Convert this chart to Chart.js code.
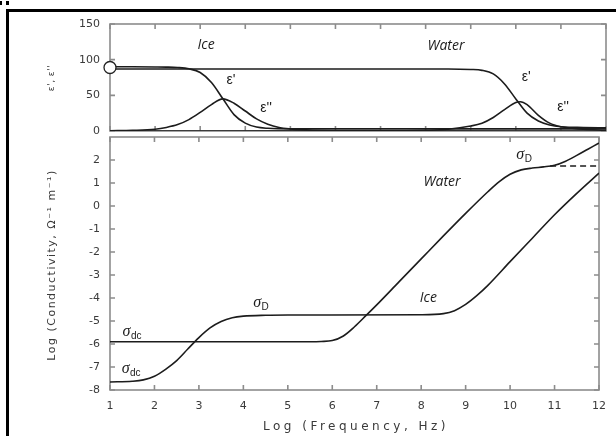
<!DOCTYPE html>
<html>
<head>
<meta charset="utf-8">
<script src="https://cdn.jsdelivr.net/npm/chart.js@4.4.1/dist/chart.umd.min.js"></script>
<style>
html, body { margin: 0; padding: 0; background: #fff; }
#wrap { position: relative; width: 616px; height: 436px; overflow: hidden; }
#wrap canvas { position: absolute; left: 0; top: 0; }
#frame { position: absolute; left: 6px; top: 9px; width: 640px; height: 460px; border-left: 3px solid #000; border-top: 3px solid #000; }
.dot { position: absolute; top: 1px; width: 2px; height: 4px; background: #000; }
</style>
</head>
<body>
<div id="wrap">
  <div id="frame"></div>
  <div class="dot" style="left:0"></div>
  <div class="dot" style="left:6px;width:3px"></div>
  <canvas id="topChart" width="616" height="436"></canvas>
  <canvas id="bottomChart" width="616" height="436"></canvas>
</div>
<script>
// ticks
const freqTicks = [1, 2, 3, 4, 5, 6, 7, 8, 9, 10, 11, 12];
const epsTicks = [0, 50, 100, 150];
const condTicks = [-8, -7, -6, -5, -4, -3, -2, -1, 0, 1, 2];

// top panel: permittivity
const iceRealX = [1, 1.5, 2, 2.25, 2.5, 2.75, 3, 3.25, 3.5, 3.75, 4, 4.25, 4.5, 5, 6, 12];
const iceReal  = [90, 90, 89.8, 89.6, 89, 87.2, 82, 68, 45.5, 23, 11, 5.5, 3.8, 3, 3, 3];
const iceImagX = [1, 1.5, 2, 2.25, 2.5, 2.75, 3, 3.25, 3.5, 3.75, 4, 4.25, 4.5, 4.75, 5, 5.5, 6, 12];
const iceImag  = [0.3, 0.9, 2.5, 5, 9, 16, 26, 37, 45, 39, 28, 17, 9.5, 5, 3, 1, 0.3, 0];
const waterRealX = [1, 8.5, 9, 9.25, 9.5, 9.75, 10, 10.25, 10.5, 10.75, 11, 11.5, 12];
const waterReal  = [87, 87, 86.3, 85, 80, 66, 45, 25, 14, 8.5, 6, 5, 4.5];
const waterImagX = [1, 7, 8, 8.5, 9, 9.25, 9.5, 9.75, 10, 10.1, 10.25, 10.5, 10.75, 11, 11.25, 11.5, 12];
const waterImag  = [0, 0.2, 1, 2.5, 7, 11, 19, 30, 40, 41, 37, 22, 11, 6, 4, 2.5, 1];
const startPoint = [{ x: 1, y: 89 }];

// bottom panel: log conductivity
const waterCondX = [1, 5.5, 5.75, 6, 6.25, 6.5, 6.75, 7, 7.5, 8, 8.5, 9, 9.5, 9.75, 10, 10.25, 10.5, 10.75, 11, 11.25, 11.5, 11.75, 12];
const waterCond  = [-5.9, -5.9, -5.89, -5.85, -5.65, -5.25, -4.78, -4.3, -3.3, -2.3, -1.3, -0.32, 0.62, 1.05, 1.38, 1.57, 1.65, 1.7, 1.77, 1.95, 2.2, 2.47, 2.74];
const iceCondX = [1, 1.5, 1.75, 2, 2.25, 2.5, 2.75, 3, 3.25, 3.5, 3.75, 4, 4.5, 5, 8, 8.5, 8.75, 9, 9.25, 9.5, 10, 10.5, 11, 11.5, 12];
const iceCond  = [-7.65, -7.62, -7.56, -7.4, -7.1, -6.72, -6.22, -5.72, -5.3, -5.02, -4.86, -4.79, -4.75, -4.74, -4.73, -4.68, -4.55, -4.28, -3.9, -3.45, -2.42, -1.4, -0.38, 0.55, 1.43];
const plateauX = [10.9, 12];
const plateau  = [1.74, 1.74];

const pts = (xs, ys) => xs.map((x, i) => ({ x: x, y: ys[i] }));

const tickFont = { family: 'DejaVu Sans', size: 11 };
const tickColor = '#3a3a3a';
const lineColor = '#1c1c1c';

function curve(xs, ys, extra) {
  return Object.assign({
    data: pts(xs, ys),
    showLine: true,
    borderColor: lineColor,
    borderWidth: 1.6,
    pointRadius: 0,
    cubicInterpolationMode: 'monotone'
  }, extra || {});
}

const decor = {
  id: 'decor',
  beforeDatasetsDraw(chart) {
    const { ctx, chartArea: a, scales: { x, y } } = chart;
    ctx.save();
    ctx.strokeStyle = '#8c8c8c';
    ctx.lineWidth = 1.6;
    ctx.strokeRect(a.left, a.top, a.right - a.left, a.bottom - a.top);
    ctx.beginPath();
    x.ticks.forEach(t => {
      const px = x.getPixelForValue(t.value);
      ctx.moveTo(px, a.bottom); ctx.lineTo(px, a.bottom - 5);
      ctx.moveTo(px, a.top); ctx.lineTo(px, a.top + 5);
    });
    y.ticks.forEach(t => {
      const py = y.getPixelForValue(t.value);
      ctx.moveTo(a.left, py); ctx.lineTo(a.left + 5, py);
      ctx.moveTo(a.right, py); ctx.lineTo(a.right - 5, py);
    });
    ctx.stroke();
    ctx.restore();
  },
  afterDraw(chart, args, opts) {
    const { ctx, scales: { x, y } } = chart;
    ctx.save();
    ctx.fillStyle = '#1c1c1c';
    ctx.textBaseline = 'middle';
    (opts.notes || []).forEach(n => {
      const px = x.getPixelForValue(n.x);
      const py = y.getPixelForValue(n.y);
      ctx.font = n.font;
      const w1 = ctx.measureText(n.text).width;
      let w2 = 0;
      if (n.sub) {
        ctx.font = '10px "Liberation Sans"';
        w2 = ctx.measureText(n.sub).width;
      }
      const left = px - (w1 + w2) / 2;
      ctx.textAlign = 'left';
      ctx.font = n.font;
      ctx.fillText(n.text, left, py);
      if (n.sub) {
        ctx.font = '10px "Liberation Sans"';
        ctx.fillText(n.sub, left + w1 + 0.5, py + 4);
      }
    });
    (opts.titles || []).forEach(t => {
      ctx.save();
      ctx.translate(t.cx, t.cy);
      ctx.rotate(t.rot || 0);
      ctx.font = t.font;
      ctx.fillStyle = '#3a3a3a';
      ctx.letterSpacing = (t.spacing || 0) + 'px';
      ctx.textAlign = 'center';
      ctx.fillText(t.text, 0, 0);
      ctx.restore();
    });
    ctx.restore();
  }
};

function xScale(height, showLabels) {
  return {
    type: 'linear', min: 1, max: 12,
    afterBuildTicks: s => { s.ticks = freqTicks.map(v => ({ value: v })); },
    ticks: { display: showLabels, font: tickFont, color: tickColor, padding: 10 },
    grid: { display: false, drawTicks: false },
    border: { display: false },
    afterFit: s => { s.height = height; }
  };
}

function yScale(min, max, list) {
  return {
    type: 'linear', min: min, max: max,
    afterBuildTicks: s => { s.ticks = list.map(v => ({ value: v })); },
    ticks: { font: tickFont, color: tickColor, padding: 10 },
    grid: { display: false, drawTicks: false },
    border: { display: false },
    afterFit: s => { s.width = 110; }
  };
}

const common = {
  responsive: false,
  animation: false,
  plugins: { legend: { display: false }, tooltip: { enabled: false } },
  elements: { point: { radius: 0 } }
};

new Chart(document.getElementById('topChart'), {
  type: 'scatter',
  data: {
    datasets: [
      { data: startPoint, pointRadius: 6, pointBackgroundColor: '#fff', pointBorderColor: '#222', pointBorderWidth: 1.3, clip: false },
      curve(iceRealX, iceReal),
      curve(iceImagX, iceImag),
      curve(waterRealX, waterReal),
      curve(waterImagX, waterImag)
    ]
  },
  options: Object.assign({}, common, {
    layout: { padding: { top: 24, right: 10, left: 0, bottom: 0 } },
    scales: { x: xScale(305, false), y: yScale(0, 150, epsTicks) },
    plugins: Object.assign({}, common.plugins, {
      decor: {
        notes: [
          { text: 'Ice', x: 3.13, y: 120.6, font: 'italic 14px "Open Sans"' },
          { text: 'Water', x: 8.45, y: 119, font: 'italic 14px "Open Sans"' },
          { text: "ε'", x: 3.68, y: 71.5, font: '14px "Liberation Sans"' },
          { text: "ε''", x: 4.46, y: 32.2, font: '14px "Liberation Sans"' },
          { text: "ε'", x: 10.23, y: 75.7, font: '14px "Liberation Sans"' },
          { text: "ε''", x: 11.05, y: 33.6, font: '14px "Liberation Sans"' }
        ],
        titles: [
          { text: "ε', ε''", cx: 52, cy: 78, rot: -Math.PI / 2, font: '9px "DejaVu Sans"', spacing: 0.5 }
        ]
      }
    })
  }),
  plugins: [decor]
});

new Chart(document.getElementById('bottomChart'), {
  type: 'scatter',
  data: {
    datasets: [
      curve(waterCondX, waterCond),
      curve(iceCondX, iceCond),
      curve(plateauX, plateau, { borderDash: [6, 4], cubicInterpolationMode: 'default' })
    ]
  },
  options: Object.assign({}, common, {
    layout: { padding: { top: 137, right: 10, left: 0, bottom: 0 } },
    scales: { x: xScale(46, true), y: yScale(-8, 3, condTicks) },
    plugins: Object.assign({}, common.plugins, {
      decor: {
        notes: [
          { text: 'σ', sub: 'D', x: 4.39, y: -4.22, font: 'italic 16px "Liberation Serif"' },
          { text: 'σ', sub: 'D', x: 10.31, y: 2.22, font: 'italic 16px "Liberation Serif"' },
          { text: 'σ', sub: 'dc', x: 1.49, y: -5.48, font: 'italic 16px "Liberation Serif"' },
          { text: 'σ', sub: 'dc', x: 1.47, y: -7.09, font: 'italic 16px "Liberation Serif"' },
          { text: 'Water', x: 8.47, y: 1.04, font: 'italic 14px "Open Sans"' },
          { text: 'Ice', x: 8.16, y: -4.0, font: 'italic 14px "Open Sans"' }
        ],
        titles: [
          { text: 'Log (Conductivity, Ω⁻¹ m⁻¹)', cx: 52, cy: 265, rot: -Math.PI / 2, font: '11px "DejaVu Sans"', spacing: 1.5 },
          { text: 'Log (Frequency, Hz)', cx: 356, cy: 427, rot: 0, font: '12px "DejaVu Sans"', spacing: 3.5 }
        ]
      }
    })
  }),
  plugins: [decor]
});
</script>
</body>
</html>
